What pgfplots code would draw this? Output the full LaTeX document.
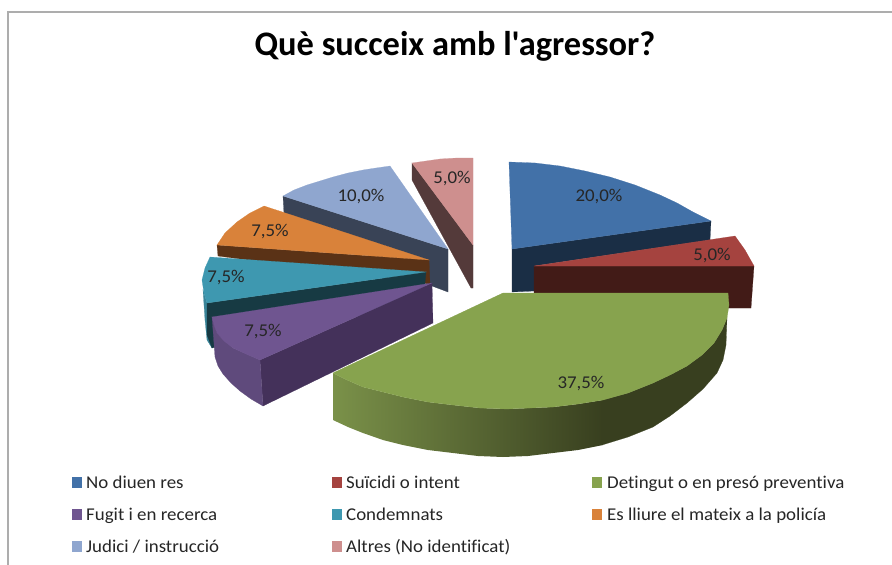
\documentclass[border=0pt]{standalone}
\usepackage{pgfplots}
\pgfplotsset{compat=1.18}
\usepackage{fontspec}
\setmainfont{Carlito}[Ligatures=NoCommon]
\newfontfamily\titlefont{Carlito}[Ligatures=NoCommon]
\definecolor{bT}{HTML}{4271A8}\definecolor{bS}{HTML}{1A2E45}
\definecolor{rT}{HTML}{A5433F}\definecolor{rS}{HTML}{421B17}
\definecolor{gT}{HTML}{87A34E}\definecolor{gL}{HTML}{7A9149}\definecolor{gD}{HTML}{383F1F}
\definecolor{pT}{HTML}{6F5590}\definecolor{pS}{HTML}{44315A}\definecolor{pL}{HTML}{5F4A7C}
\definecolor{tT}{HTML}{3E98B0}\definecolor{tS}{HTML}{173A43}\definecolor{tL}{HTML}{3A8599}
\definecolor{oT}{HTML}{D9823A}\definecolor{oS}{HTML}{5A3216}
\definecolor{lT}{HTML}{8FA6CF}\definecolor{lS}{HTML}{394356}
\definecolor{kT}{HTML}{CE8F8E}\definecolor{kS}{HTML}{543A3A}
\newcommand\poly[2]{\addplot[fill=#1,draw=#1,line width=0.2pt,forget plot] coordinates {#2} -- cycle;}
\newcommand\lab[2]{\node[font=\fontsize{18}{18}\selectfont,text=black!85] at (axis cs:#1) {\scalebox{1.05}[1]{#2}};}
\newcommand\leg[2]{\node[anchor=base west,inner sep=0pt,font=\fontsize{18}{18}\selectfont,text=black!85] at (axis cs:#1) {\scalebox{1.05}[1]{#2}};}
\begin{document}
\begin{tikzpicture}
\begin{axis}[scale only axis,width=892pt,height=565pt,xmin=0,xmax=892,ymin=0,ymax=565,y dir=reverse,axis lines=none,clip=true]
\poly{white}{(0,0)(892,0)(892,565)(0,565)}
\addplot[draw=black!32,line width=1.5pt,forget plot] coordinates {(8,565)(8,12)(892,12)};
% Altres
\poly{kS}{(412,163)(473,245)(473,288)(471,288)(412,180)}
\poly{kT}{(412,163)(426,161)(440,159)(457,158)(473,158)(473,245)}
% Judici
\poly{lS}{(283,196)(448,249)(448,292)(432,286)(284,214)}
\poly{lT}{(448,249)(283,196)(294,190)(307,185)(320,181)(333,177)(348,173)(363,170)(376,168)(390,166)}
% Es lliure
\poly{oS}{(217,245)(429,260)(430,284)(218,256)}
\poly{oT}{(429,260)(217,245)(225,233)(237,222)(250,213)(264,206)}
% Condemnats
\poly{tL}{(203,290)(207,303)(212,348)(207,340)(205,320)}
\poly{tS}{(207,303)(426,272)(425,283)(430,300)(212,348)(207,335)}
\poly{tT}{(426,272)(210,257)(205,268)(202,280)(204,293)(207,303)}
% Fugit
\poly{pS}{(432,283)(260,360)(263,406)(433,323)}
\poly{pL}{(212,317)(217,333)(233,348)(260,360)(263,406)(251,399)(240,391)(231,383)(223,374)(218,366)(215,357)}
\poly{pT}{(432,283)(212,317)(214,325)(217,333)(224,341)(233,348)(246,354)(260,360)}
% No diuen res
\poly{bS}{(512,249)(711,221)(710,240)(534,266)(534,291)(512,292)}
\poly{bT}{(512,249)(509,162)(535,163)(560,166)(585,171)(610,177)(635,185)(660,195)(677,203)(693,212)(711,221)}
% Suicidi
\poly{rS}{(534,266)(754,266)(751,308)(728,308)(728,293)(534,293)}
\poly{rT}{(534,266)(735,236)(745,250)(754,266)}
% Detingut
\addplot[left color=gL,right color=gD,draw=none,forget plot] coordinates {(603,400)(578,404)(553,407)(530,408)(507,409)(480,408)(453,405)(428,402)(403,397)(383,392)(363,387)(347,380)(333,373)(333,420)(348,427)(363,433)(383,440)(403,445)(428,450)(453,453)(478,456)(503,457)(528,456)(553,453)(578,450)(603,445)} -- cycle;
\poly{gD}{(602,400)(628,393)(653,383)(670,375)(687,366)(702,355)(714,343)(722,330)(727,318)(726,345)(723,360)(717,373)(703,389)(687,403)(670,416)(653,427)(628,437)(602,445)}
\poly{gT}{(503,293)(728,293)(729,305)(727,318)(722,330)(714,343)(702,355)(687,366)(670,375)(653,383)(628,393)(603,400)(578,404)(553,407)(530,408)(507,409)(480,408)(453,405)(428,402)(403,397)(383,392)(363,387)(347,380)(333,373)}
% legend keys
\poly{bT}{(72,477)(81,477)(81,487)(72,487)}
\poly{rT}{(332,477)(341,477)(341,487)(332,487)}
\poly{gT}{(592,477)(601,477)(601,487)(592,487)}
\poly{pT}{(72,509)(81,509)(81,519)(72,519)}
\poly{tT}{(332,509)(341,509)(341,519)(332,519)}
\poly{oT}{(592,509)(601,509)(601,519)(592,519)}
\poly{lT}{(72,541)(81,541)(81,551)(72,551)}
\poly{kT}{(332,541)(341,541)(341,551)(332,551)}
% labels
\lab{599,197}{20,0\%}
\lab{712,256}{5,0\%}
\lab{581,384}{37,5\%}
\lab{263,332}{7,5\%}
\lab{226,278}{7,5\%}
\lab{270,232}{7,5\%}
\lab{361,197}{10,0\%}
\lab{452,179}{5,0\%}
\node[font=\titlefont\bfseries\fontsize{34.4}{34}\selectfont] at (axis cs:455,46) {Què succeix amb l'agressor?};
\leg{86,488}{No diuen res}
\leg{346,488}{Suïcidi o intent}
\leg{607,488}{Detingut o en presó preventiva}
\leg{86,520}{Fugit i en recerca}
\leg{346,520}{Condemnats}
\leg{607,520}{Es lliure el mateix a la policía}
\leg{86,552}{Judici / instrucció}
\leg{346,552}{Altres (No identificat)}
\end{axis}
\end{tikzpicture}
\end{document}
